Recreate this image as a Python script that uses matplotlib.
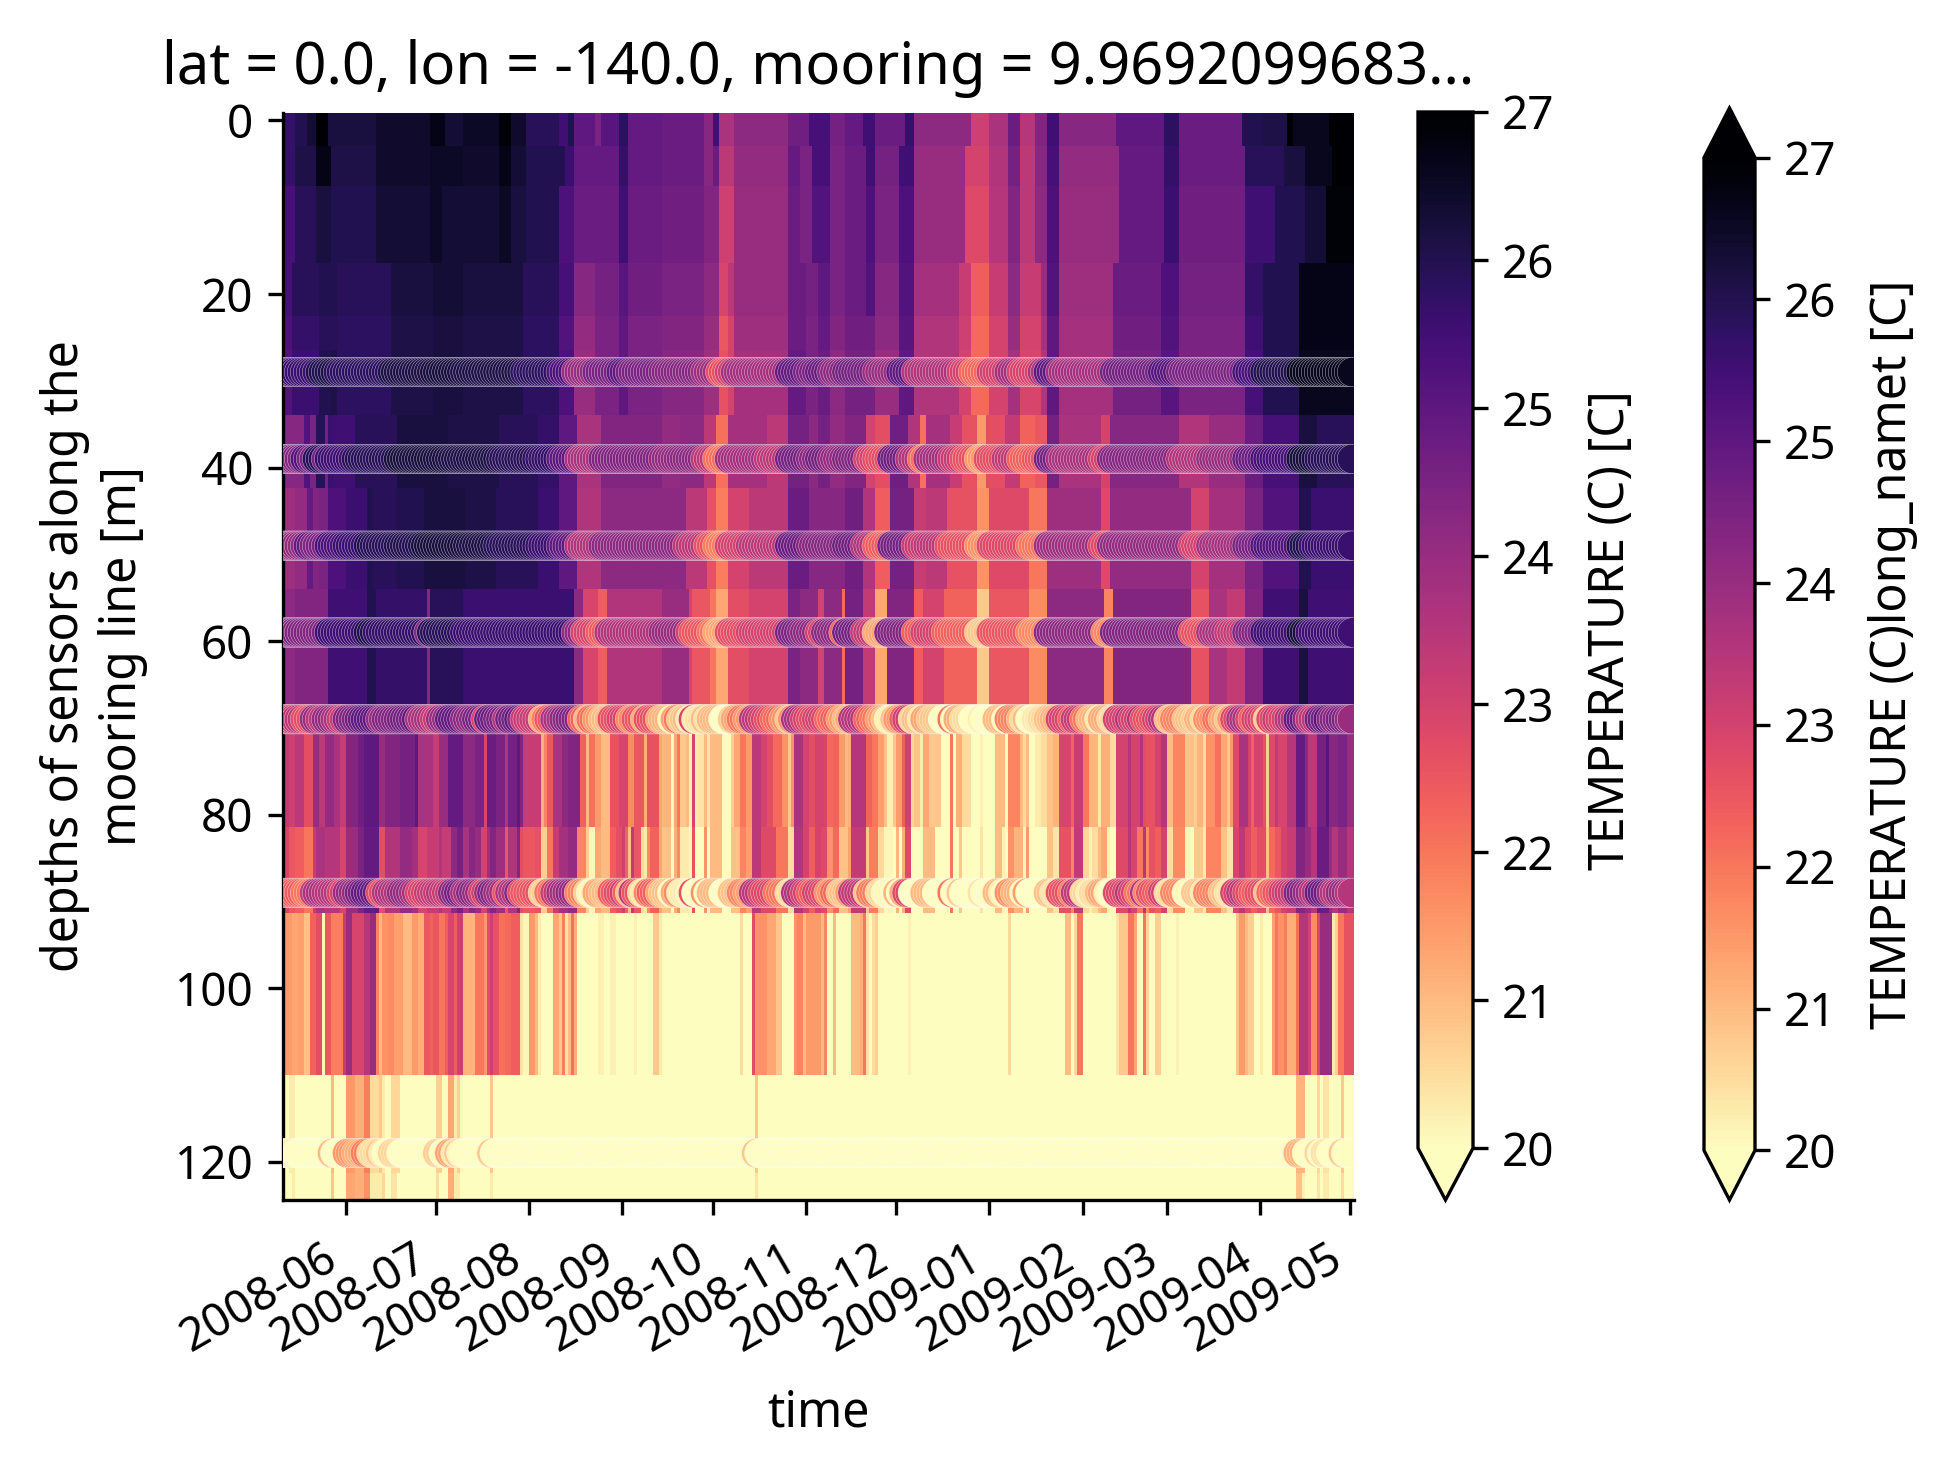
import numpy as np
import matplotlib
matplotlib.use('Agg')
import matplotlib.pyplot as plt
import matplotlib.dates as mdates
from matplotlib.cm import ScalarMappable
from matplotlib.colors import Normalize

plt.rcParams['font.family'] = ['Noto Sans', 'DejaVu Sans']
plt.rcParams['font.size'] = 11.6

# depth limits of the mesh rows (m) and where the first day starts
depth_edges = [-1, 3, 7.5, 16.4, 22.5, 26.4, 33.9, 42.4, 54, 70.7, 81.4, 91.3, 110, 121.3, 125]
first_day = '2008-05-11'
n_days = 356
month_ticks = ['2008-06-01', '2008-07-01', '2008-08-01', '2008-09-01', '2008-10-01', '2008-11-01',
               '2008-12-01', '2009-01-01', '2009-02-01', '2009-03-01', '2009-04-01', '2009-05-01']
depth_ticks = [0, 20, 40, 60, 80, 100, 120]
cbar_ticks = [20, 21, 22, 23, 24, 25, 26, 27]

# sensors and the mesh row their colour follows
sensor_depth = [29, 39, 49, 59, 69, 89, 119]
sensor_band = [5, 6, 7, 8, 9, 10, 12]

band_00 = [(4, 25.7), (8, 26.0), (11, 26.3), (15, 27.0), (18, 26.2), (31, 26.2), (49, 26.4), (54, 26.7), (60, 26.3),
           (72, 26.5), (76, 26.9), (81, 26.4), (92, 25.9), (95, 25.5), (97, 26.0), (104, 25.0), (106, 24.5), (112, 25.1),
           (115, 25.8), (126, 24.9), (140, 24.8), (143, 24.3), (145, 25.5), (150, 23.7), (168, 24.2), (175, 24.7),
           (182, 25.4), (187, 24.6), (193, 24.9), (197, 25.5), (207, 24.8), (210, 25.7), (229, 24.2), (235, 23.1),
           (241, 23.7), (245, 24.8), (250, 23.5), (254, 24.4), (258, 25.5), (277, 24.3), (293, 25.0), (298, 25.8),
           (319, 24.8), (326, 26.0), (334, 26.1), (336, 27.0), (348, 26.6), (356, 27.0)]
band_01 = [(4, 25.7), (11, 26.1), (16, 26.7), (31, 26.1), (49, 26.4), (60, 26.5), (72, 26.4), (76, 26.7), (81, 26.3),
           (94, 26.0), (97, 25.6), (112, 24.9), (115, 25.7), (126, 24.9), (140, 24.8), (143, 24.3), (145, 24.8),
           (150, 23.4), (168, 24.1), (172, 24.9), (176, 24.5), (182, 25.4), (187, 24.5), (194, 24.8), (197, 25.5),
           (205, 24.6), (210, 25.5), (227, 24.0), (235, 23.0), (241, 23.6), (245, 24.6), (250, 23.4), (254, 24.3),
           (258, 25.4), (278, 24.1), (293, 24.9), (298, 25.7), (320, 24.8), (333, 25.9), (340, 26.2), (349, 26.6),
           (356, 27.0)]
band_02 = [(4, 25.4), (11, 25.9), (16, 26.2), (31, 26.0), (49, 26.3), (53, 26.5), (72, 26.3), (76, 26.5), (81, 26.2),
           (92, 26.0), (97, 25.3), (112, 24.8), (115, 25.5), (126, 24.8), (140, 24.7), (145, 24.4), (150, 23.1),
           (168, 24.0), (172, 24.8), (176, 24.5), (182, 25.2), (187, 24.5), (194, 24.8), (197, 25.3), (205, 24.5),
           (210, 25.3), (227, 24.0), (235, 22.8), (241, 23.5), (245, 24.4), (250, 23.4), (254, 24.2), (258, 25.3),
           (278, 24.0), (293, 24.9), (298, 25.6), (320, 24.7), (330, 25.5), (340, 26.0), (347, 26.3), (356, 26.9)]
band_03 = [(3, 25.4), (12, 25.9), (18, 26.0), (36, 25.9), (50, 26.2), (60, 26.3), (80, 26.2), (92, 25.9), (97, 25.4),
           (104, 24.3), (112, 24.6), (115, 25.1), (126, 24.7), (140, 24.5), (145, 24.2), (148, 22.9), (150, 23.4),
           (168, 24.0), (174, 24.8), (178, 24.6), (182, 25.0), (187, 24.5), (194, 24.8), (197, 25.2), (205, 24.3),
           (210, 25.2), (225, 23.8), (229, 23.2), (235, 22.4), (241, 23.2), (245, 24.2), (252, 23.2), (254, 24.0),
           (258, 25.2), (276, 23.9), (292, 24.8), (298, 25.3), (320, 24.6), (326, 25.7), (338, 26.0), (356, 26.7)]
band_04 = [(3, 25.3), (12, 25.7), (18, 25.9), (36, 25.8), (50, 26.1), (60, 26.2), (80, 26.1), (92, 25.8), (97, 25.2),
           (104, 24.1), (112, 24.5), (115, 25.0), (126, 24.5), (140, 24.4), (145, 24.0), (148, 22.5), (150, 23.0),
           (168, 23.9), (174, 24.8), (178, 24.5), (182, 24.9), (187, 24.4), (197, 24.7), (205, 24.2), (210, 25.1),
           (225, 23.6), (229, 23.1), (235, 22.2), (241, 23.0), (245, 24.0), (252, 23.0), (254, 23.8), (258, 25.0),
           (276, 23.8), (292, 24.7), (298, 25.2), (320, 24.5), (326, 25.5), (338, 26.0), (356, 26.7)]
band_05 = [(3, 25.2), (12, 25.6), (16, 26.0), (18, 26.1), (36, 25.8), (50, 26.1), (60, 26.2), (80, 26.1), (92, 25.8),
           (97, 25.3), (104, 24.0), (112, 24.5), (115, 25.0), (126, 24.5), (140, 24.3), (145, 23.9), (148, 22.6),
           (150, 23.0), (168, 23.8), (174, 24.9), (178, 24.5), (182, 24.8), (187, 24.2), (197, 24.6), (205, 24.0),
           (210, 25.0), (225, 23.6), (229, 23.0), (235, 22.2), (241, 23.0), (245, 23.8), (252, 22.9), (254, 23.6),
           (258, 25.0), (276, 23.8), (292, 24.6), (298, 25.1), (320, 24.5), (326, 25.4), (338, 26.0), (356, 26.6)]
band_06 = [(7, 24.3), (9, 25.2), (11, 24.5), (14, 25.9), (15, 24.6), (17, 25.6), (24, 25.5), (38, 25.9), (55, 26.2),
           (72, 26.1), (85, 25.9), (92, 25.7), (98, 25.0), (106, 23.7), (126, 24.4), (132, 24.1), (140, 24.2), (144, 23.4),
           (148, 22.1), (161, 23.8), (168, 23.4), (175, 24.6), (178, 24.2), (182, 24.6), (187, 24.1), (194, 24.4),
           (197, 23.0), (202, 22.7), (208, 24.7), (212, 23.6), (214, 22.1), (222, 23.8), (226, 23.2), (231, 22.6),
           (234, 21.5), (240, 22.7), (245, 23.3), (250, 22.3), (254, 22.5), (258, 24.6), (272, 23.7), (275, 23.0),
           (298, 24.3), (308, 23.6), (320, 24.0), (326, 24.8), (338, 25.4), (344, 26.2), (356, 25.9)]
band_07 = [(4, 23.9), (8, 24.1), (10, 24.9), (12, 24.4), (15, 24.5), (21, 25.3), (28, 25.6), (30, 26.0), (38, 25.9),
           (47, 26.0), (61, 26.2), (71, 26.1), (85, 25.9), (92, 25.6), (98, 25.0), (106, 23.6), (134, 24.2), (141, 23.4),
           (144, 22.6), (148, 21.9), (155, 23.0), (168, 23.4), (175, 24.8), (187, 24.3), (193, 24.7), (197, 23.6),
           (202, 22.4), (210, 24.6), (214, 23.2), (221, 23.4), (231, 22.6), (235, 21.6), (248, 22.8), (254, 22.0),
           (272, 23.9), (275, 22.8), (302, 24.1), (308, 23.0), (320, 23.8), (326, 24.5), (338, 25.2), (342, 26.0),
           (356, 25.6)]
band_08 = [(4, 24.2), (9, 24.4), (15, 24.4), (24, 25.5), (28, 25.5), (31, 26.0), (48, 25.7), (49, 24.3), (60, 25.9),
           (79, 25.6), (97, 25.6), (100, 24.2), (105, 22.9), (108, 22.4), (126, 23.6), (135, 24.0), (136, 23.0),
           (142, 22.5), (144, 22.0), (148, 21.3), (155, 22.7), (168, 23.0), (172, 24.5), (178, 24.2), (180, 23.0),
           (186, 24.2), (187, 22.2), (193, 24.6), (197, 23.3), (201, 21.3), (210, 24.4), (213, 22.4), (220, 23.0),
           (231, 22.3), (235, 20.8), (248, 22.5), (254, 21.7), (273, 24.2), (276, 21.8), (302, 24.4), (308, 22.6),
           (314, 23.7), (320, 23.3), (326, 24.4), (338, 25.5), (341, 26.2), (356, 25.5)]
band_09 = [(2, 23.3), (4, 23.1), (7, 23.4), (10, 22.7), (12, 24.0), (14, 23.4), (17, 24.1), (19, 23.7), (21, 23.2),
           (25, 24.4), (27, 24.7), (32, 25.0), (34, 24.0), (39, 24.4), (44, 24.6), (45, 25.0), (50, 23.7), (52, 23.2),
           (55, 24.0), (60, 24.9), (64, 24.2), (67, 24.5), (68, 22.9), (71, 24.8), (74, 24.5), (75, 23.6), (78, 24.6),
           (79, 25.0), (80, 24.4), (86, 23.2), (87, 21.2), (88, 21.8), (90, 22.5), (93, 23.7), (95, 24.2), (99, 24.4),
           (101, 22.3), (102, 21.0), (104, 22.1), (106, 21.5), (109, 21.0), (112, 22.6), (115, 22.9), (117, 21.7),
           (120, 22.5), (121, 21.2), (125, 22.6), (126, 21.3), (129, 21.1), (130, 20.1), (131, 21.3), (132, 22.0),
           (134, 20.8), (135, 21.0), (136, 20.2), (137, 22.9), (138, 20.3), (140, 20.4), (141, 21.0), (142, 20.4),
           (146, 21.0), (149, 20.0), (150, 20.7), (152, 21.3), (154, 22.0), (156, 21.5), (159, 23.4), (161, 23.0),
           (163, 22.7), (166, 22.2), (168, 21.6), (169, 20.8), (170, 21.6), (173, 23.7), (175, 23.0), (177, 22.7),
           (180, 23.0), (181, 22.9), (183, 22.2), (185, 22.3), (187, 21.5), (188, 21.0), (189, 21.2), (194, 23.5),
           (196, 22.3), (198, 22.0), (200, 21.4), (201, 20.9), (203, 20.2), (204, 20.8), (206, 21.5), (207, 22.4),
           (209, 23.1), (210, 20.6), (212, 20.9), (213, 20.3), (215, 21.3), (219, 20.8), (222, 20.0), (223, 22.0),
           (224, 20.0), (226, 21.2), (229, 20.5), (232, 20.0), (233, 20.2), (237, 20.0), (240, 21.0), (241, 20.0),
           (245, 21.8), (246, 21.0), (247, 20.5), (248, 21.0), (250, 20.0), (252, 20.3), (254, 20.5), (256, 20.9),
           (258, 21.1), (262, 22.9), (263, 22.3), (266, 23.2), (268, 22.0), (271, 21.1), (272, 20.3), (275, 21.2),
           (277, 20.5), (281, 23.0), (282, 23.6), (285, 23.0), (286, 23.6), (287, 22.7), (290, 22.6), (292, 23.0),
           (294, 23.5), (296, 21.0), (300, 21.8), (303, 20.9), (304, 20.7), (306, 21.1), (307, 20.5), (310, 21.6),
           (312, 22.1), (314, 21.3), (315, 20.8), (316, 21.5), (318, 22.8), (321, 23.7), (322, 23.0), (323, 22.3),
           (326, 23.0), (327, 22.6), (328, 20.7), (330, 22.8), (331, 23.3), (334, 22.9), (337, 23.5), (340, 24.9),
           (341, 24.2), (344, 23.4), (347, 24.6), (348, 25.1), (351, 24.3), (354, 24.5), (356, 24.0)]
band_10 = [(2, 22.9), (4, 22.5), (7, 22.4), (10, 22.0), (11, 23.2), (14, 23.7), (19, 23.5), (21, 22.9), (25, 24.0),
           (27, 24.5), (32, 24.9), (34, 22.7), (39, 23.6), (43, 24.1), (45, 23.8), (48, 22.9), (52, 23.2), (53, 23.6),
           (56, 23.2), (58, 24.2), (60, 24.6), (62, 23.7), (64, 24.3), (66, 24.0), (68, 23.0), (69, 23.9), (71, 24.4),
           (74, 23.9), (75, 22.5), (78, 23.6), (79, 24.4), (80, 22.7), (84, 22.5), (86, 22.6), (88, 20.7), (90, 22.0),
           (92, 23.2), (95, 23.8), (98, 24.1), (101, 21.8), (102, 20.7), (104, 20.1), (106, 21.3), (109, 21.0),
           (111, 22.4), (113, 22.7), (114, 23.1), (115, 22.3), (116, 20.9), (117, 23.3), (119, 22.5), (120, 20.5),
           (121, 20.3), (122, 21.7), (125, 22.3), (126, 21.3), (129, 20.9), (130, 20.0), (131, 21.2), (132, 21.7),
           (135, 20.3), (136, 20.1), (137, 22.6), (140, 20.0), (141, 21.6), (142, 20.0), (146, 21.0), (149, 20.0),
           (152, 20.9), (154, 21.8), (156, 21.4), (159, 23.4), (164, 22.8), (168, 22.0), (170, 20.5), (173, 23.6),
           (175, 23.0), (177, 22.4), (179, 23.0), (180, 22.8), (181, 22.8), (183, 21.6), (185, 22.2), (188, 20.9),
           (189, 21.4), (194, 23.3), (195, 20.8), (198, 21.9), (200, 20.6), (203, 20.1), (204, 20.0), (205, 21.1),
           (206, 20.0), (207, 21.2), (209, 22.8), (213, 20.0), (217, 21.0), (222, 20.0), (223, 22.0), (225, 20.0),
           (226, 20.8), (232, 20.0), (233, 20.4), (237, 20.0), (239, 21.0), (240, 20.2), (241, 20.0), (243, 21.6),
           (246, 21.1), (247, 20.1), (248, 21.5), (254, 20.0), (256, 20.9), (258, 20.4), (262, 22.6), (263, 21.8),
           (266, 23.3), (268, 20.6), (269, 20.2), (271, 20.5), (272, 21.0), (274, 21.3), (275, 20.2), (277, 20.0),
           (281, 22.8), (282, 23.5), (284, 22.9), (286, 22.0), (287, 23.5), (288, 21.7), (290, 22.6), (292, 22.4),
           (294, 23.0), (296, 20.5), (300, 21.7), (302, 20.1), (303, 20.0), (306, 20.8), (307, 20.3), (312, 21.8),
           (314, 20.9), (316, 20.4), (318, 22.9), (320, 23.4), (322, 22.8), (324, 22.4), (327, 22.7), (328, 20.9),
           (330, 22.2), (332, 22.5), (334, 23.0), (337, 23.2), (340, 24.4), (342, 24.0), (344, 23.5), (348, 24.8),
           (349, 24.0), (351, 23.5), (354, 24.0), (356, 23.5)]
band_11 = [(3, 21.5), (5, 21.3), (7, 21.4), (9, 20.9), (11, 22.3), (13, 22.7), (14, 20.1), (16, 22.5), (20, 21.9),
           (21, 23.2), (23, 24.0), (27, 22.9), (29, 23.5), (31, 24.0), (32, 21.8), (33, 21.0), (35, 21.6), (37, 21.7),
           (40, 21.4), (43, 21.0), (45, 21.5), (47, 21.2), (49, 22.5), (50, 22.3), (52, 22.5), (54, 22.0), (55, 22.4),
           (57, 22.9), (58, 22.4), (60, 23.1), (64, 21.1), (67, 22.0), (68, 21.5), (69, 22.7), (70, 23.1), (72, 22.6),
           (74, 22.1), (76, 22.2), (79, 22.4), (80, 20.4), (82, 20.1), (84, 21.5), (85, 21.0), (86, 20.3), (90, 20.0),
           (92, 21.3), (93, 20.8), (94, 21.9), (95, 20.4), (96, 21.0), (97, 22.1), (98, 21.2), (105, 20.0), (107, 20.2),
           (109, 20.0), (111, 20.2), (117, 20.0), (118, 20.2), (123, 20.0), (125, 20.8), (126, 20.3), (152, 20.0),
           (153, 20.5), (156, 20.0), (157, 22.7), (161, 21.6), (164, 21.3), (166, 20.8), (170, 20.0), (171, 21.6),
           (173, 21.8), (174, 21.0), (179, 21.5), (180, 21.0), (181, 21.8), (183, 20.0), (184, 21.0), (189, 20.0),
           (192, 21.0), (193, 21.2), (194, 22.0), (195, 20.4), (196, 20.0), (197, 20.5), (198, 20.7), (208, 20.0),
           (209, 20.2), (241, 20.0), (242, 20.6), (260, 20.0), (262, 21.0), (263, 20.0), (264, 20.6), (266, 22.0),
           (277, 20.0), (278, 20.4), (281, 20.8), (283, 22.0), (284, 21.3), (286, 20.0), (287, 22.0), (288, 20.6),
           (290, 20.0), (292, 20.7), (297, 20.0), (298, 20.2), (317, 20.0), (318, 20.9), (320, 21.5), (321, 21.0),
           (323, 20.7), (325, 20.0), (326, 20.3), (329, 20.0), (330, 21.4), (331, 22.0), (333, 21.6), (334, 21.9),
           (337, 21.2), (338, 22.1), (341, 23.5), (342, 23.0), (344, 21.7), (345, 22.9), (349, 24.0), (350, 20.3),
           (351, 20.7), (353, 22.0), (356, 22.6)]
band_12 = [(2, 20.0), (4, 20.3), (16, 20.0), (17, 21.0), (21, 20.0), (24, 21.5), (27, 21.2), (29, 21.9), (30, 20.6),
           (32, 20.5), (33, 20.8), (34, 20.3), (36, 20.0), (39, 20.6), (51, 20.0), (53, 20.7), (55, 20.0), (57, 21.3),
           (58, 20.3), (59, 20.7), (60, 20.1), (69, 20.0), (70, 20.8), (157, 20.0), (158, 20.8), (337, 20.0), (340, 21.1),
           (344, 20.0), (345, 20.6), (346, 20.0), (348, 20.4), (352, 20.0), (353, 20.8), (356, 20.0)]
band_13 = [(3, 20.0), (4, 20.3), (16, 20.0), (17, 20.8), (21, 20.0), (24, 21.3), (27, 21.2), (29, 21.6), (33, 20.3),
           (34, 20.6), (36, 20.0), (38, 20.4), (51, 20.0), (52, 20.5), (55, 20.0), (57, 21.2), (59, 20.3), (69, 20.0),
           (70, 20.3), (157, 20.0), (158, 20.4), (337, 20.0), (339, 20.9), (340, 20.2), (344, 20.0), (345, 20.4),
           (346, 20.0), (348, 20.3), (352, 20.0), (353, 20.5), (356, 20.0)]
bands = [band_00, band_01, band_02, band_03, band_04, band_05, band_06, band_07, band_08, band_09, band_10, band_11,
         band_12, band_13]

t0 = mdates.date2num(np.datetime64(first_day))
kw = dict(cmap='magma_r', vmin=20, vmax=27)

fig = plt.figure(figsize=(6.5, 4.91))
W, H = 1950., 1473.
ax = fig.add_axes([282.5 / W, 1 - 1200 / H, 1071 / W, 1087 / H])

# mesh, one row at a time because each row has its own runs
for i, band in enumerate(bands):
    ends = np.array([b[0] for b in band], dtype=float)
    temps = np.array([b[1] for b in band])
    ax.pcolormesh(t0 + np.r_[0, ends], depth_edges[i:i + 2], temps[None, :], shading='flat', **kw)

# sensor circles, one a day
days = np.arange(n_days) + 0.5
for d, i in zip(sensor_depth, sensor_band):
    ends = np.array([b[0] for b in bands[i]], dtype=float)
    temps = np.array([b[1] for b in bands[i]])
    c = temps[np.searchsorted(ends, days)]
    ax.scatter(t0 + days, np.full(n_days, d), c=c, s=50, edgecolors='w', linewidths=0.08, zorder=3, **kw)

ax.set_xlim(t0, t0 + n_days)
ax.set_ylim(124.4, -0.86)
ax.set_xticks([mdates.date2num(np.datetime64(m)) for m in month_ticks])
ax.xaxis.set_major_formatter(mdates.DateFormatter('%Y-%m'))
ax.set_yticks(depth_ticks)
ax.tick_params(labelsize=11)
ax.tick_params(axis='x', pad=5)
plt.setp(ax.get_xticklabels(), rotation=30, ha='right')
ax.spines['top'].set_visible(False)
ax.spines['right'].set_visible(False)
ax.set_xlabel('time', labelpad=6.5)
ax.set_ylabel('depths of sensors along the\nmooring line [m]', labelpad=6.5)
ax.set_title('lat = 0.0, lon = -140.0, mooring = 9.9692099683...', fontsize=13.9, pad=7)

# colorbars
sm = ScalarMappable(norm=Normalize(20, 27), cmap='magma_r')
cax1 = fig.add_axes([1418 / W, 1 - 1200 / H, 55 / W, 1088 / H])
cb1 = fig.colorbar(sm, cax=cax1, extend='min', ticks=cbar_ticks)
cb1.set_label('TEMPERATURE (C) [C]', labelpad=7.5)
cax2 = fig.add_axes([1704 / W, 1 - 1200 / H, 51 / W, 1092 / H])
cb2 = fig.colorbar(sm, cax=cax2, extend='both', ticks=cbar_ticks)
cb2.set_label('TEMPERATURE (C)long_namet [C]', labelpad=7.5)
cb1.ax.tick_params(labelsize=11)
cb2.ax.tick_params(labelsize=11)

fig.savefig('out.png', dpi=300)
